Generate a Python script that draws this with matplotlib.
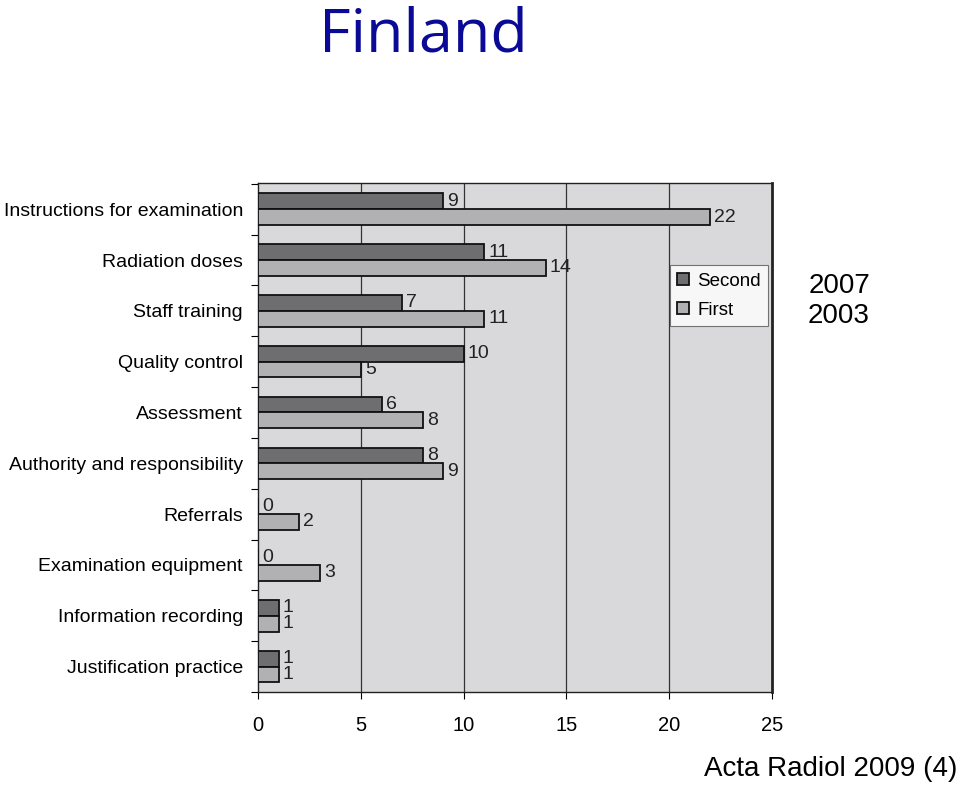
import matplotlib
matplotlib.use("Agg")
import matplotlib.pyplot as plt
import numpy as np

categories = ["Instructions for examination", "Radiation doses", "Staff training",
              "Quality control", "Assessment", "Authority and responsibility",
              "Referrals", "Examination equipment", "Information recording",
              "Justification practice"]
second = [9, 11, 7, 10, 6, 8, 0, 0, 1, 1]
first = [22, 14, 11, 5, 8, 9, 2, 3, 1, 1]
xticks = [0, 5, 10, 15, 20, 25]

plt.rcParams['font.family'] = ['Liberation Sans', 'DejaVu Sans']

fig = plt.figure(figsize=(9.6, 7.85), dpi=100)
ax = fig.add_axes([0.269, 0.1185, 0.535, 0.648])
ax.set_facecolor('#d9d9db')

y = np.arange(len(categories))
h = 0.31
dark = '#6e6e70'
light = '#b1b1b3'
ax.barh(y - h / 2, second, height=h, color=dark, edgecolor='#111111', linewidth=1.3, label='Second', zorder=3)
ax.barh(y + h / 2, first, height=h, color=light, edgecolor='#111111', linewidth=1.3, label='First', zorder=3)

for i in range(len(categories)):
    ax.text(second[i] + 0.2, y[i] - h / 2, str(second[i]), va='center', ha='left', fontsize=14, color='#222222', zorder=4)
    ax.text(first[i] + 0.2, y[i] + h / 2, str(first[i]), va='center', ha='left', fontsize=14, color='#222222', zorder=4)

ax.set_xlim(0, 25)
ax.set_ylim(len(categories) - 1 + 0.47, -0.51)
ax.set_xticks(xticks)
ax.set_xticklabels([str(t) for t in xticks], fontsize=14.5)
ax.tick_params(axis='x', length=5, pad=12, direction='out')
for xv in xticks[1:-1]:
    ax.axvline(xv, color='#333333', linewidth=0.9, zorder=1)

# y ticks: small marks at row boundaries, labels at row centres
ax.set_yticks(np.arange(len(categories) + 1) - 0.5)
ax.set_yticklabels([])
ax.tick_params(axis='y', which='major', length=5, direction='out')
ax.set_yticks(y, minor=True)
ax.set_yticklabels(categories, minor=True, fontsize=14)
ax.tick_params(axis='y', which='minor', length=0, pad=11)

for s in ax.spines.values():
    s.set_linewidth(1.0)
    s.set_color('#222222')
ax.spines['right'].set_linewidth(2)

leg = ax.legend(loc='upper right', bbox_to_anchor=(0.993, 0.839), fontsize=13.5, frameon=True,
                fancybox=False, edgecolor='#555555', handlelength=0.6, handleheight=0.6,
                handletextpad=0.45, borderpad=0.4, labelspacing=0.65, borderaxespad=0)
leg.get_frame().set_facecolor('white')
leg.get_frame().set_linewidth(0.8)

fig.text(0.441, 0.955, "Finland", ha='center', va='center', fontsize=44, color='#0a0a96',
         family=['Open Sans', 'DejaVu Sans'])
fig.text(0.874, 0.636, "2007", ha='center', va='center', fontsize=20, color='black')
fig.text(0.874, 0.597, "2003", ha='center', va='center', fontsize=20, color='black')
fig.text(0.997, 0.02, "Acta Radiol 2009 (4)", ha='right', va='center', fontsize=20, color='black')

fig.savefig("out.png", dpi=100)
